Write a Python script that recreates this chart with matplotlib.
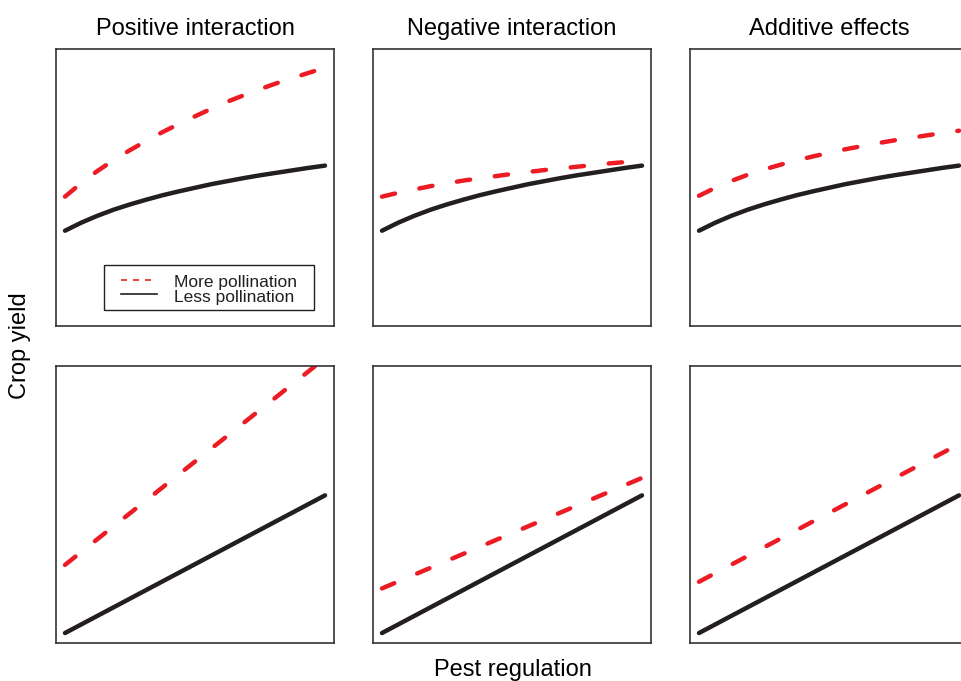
import matplotlib
matplotlib.use("Agg")
import matplotlib.pyplot as plt
from matplotlib.lines import Line2D
from matplotlib.patches import Rectangle
import numpy as np

plt.rcParams['font.family'] = ['Liberation Sans', 'DejaVu Sans']

RED = "#ed1c24"
BLACK = "#231f20"
FRAME = "#333333"

# pest regulation (relative), read at even steps along the x axis
x_curve = [0, 0.0625, 0.125, 0.1875, 0.25, 0.3125, 0.375, 0.4375, 0.5,
           0.5625, 0.625, 0.6875, 0.75, 0.8125, 0.875, 0.9375, 1]
x_line = [0, 1]

titles = ["Positive interaction", "Negative interaction", "Additive effects"]
legend_labels = ["More pollination", "Less pollination"]

# top row: saturating responses (crop yield, relative)
less_top = [0.344, 0.373, 0.398, 0.420, 0.439, 0.456, 0.472, 0.486, 0.499,
            0.512, 0.523, 0.534, 0.544, 0.553, 0.562, 0.571, 0.579]
more_top_pos = [0.467, 0.516, 0.560, 0.599, 0.635, 0.668, 0.700, 0.729, 0.757,
                0.784, 0.810, 0.833, 0.855, 0.876, 0.895, 0.914, 0.932]
more_top_neg = [0.467, 0.481, 0.493, 0.505, 0.515, 0.525, 0.533, 0.541, 0.549,
                0.556, 0.563, 0.569, 0.575, 0.581, 0.587, 0.592, 0.597]
more_top_add = [0.470, 0.499, 0.524, 0.546, 0.565, 0.582, 0.598, 0.612, 0.625,
                0.638, 0.649, 0.660, 0.670, 0.679, 0.688, 0.697, 0.705]

# bottom row: linear responses
less_bot = [0.036, 0.533]
more_bot_pos = [0.282, 1.028]
more_bot_neg = [0.197, 0.596]
more_bot_add = [0.221, 0.718]

top_more = [more_top_pos, more_top_neg, more_top_add]
bot_more = [more_bot_pos, more_bot_neg, more_bot_add]

fig = plt.figure(figsize=(9.62, 6.81), dpi=100)

W, H = 962, 681
lefts = [56, 373, 690]
tops = [49, 366]
aw, ah = 278, 277

def make_ax(left, top):
    ax = fig.add_axes([left / W, 1 - (top + ah) / H, aw / W, ah / H])
    ax.set_xlim(-0.0346, 1.0346)
    ax.set_ylim(0, 1)
    ax.set_xticks([])
    ax.set_yticks([])
    for s in ax.spines.values():
        s.set_color(FRAME)
        s.set_linewidth(1.2)
    return ax

dash_kw = dict(color=RED, lw=3.2, dashes=(3, 5.6), dash_capstyle="round")
solid_kw = dict(color=BLACK, lw=3.2, solid_capstyle="round",
                solid_joinstyle="round")

axes_top = []
for i in range(3):
    ax = make_ax(lefts[i], tops[0])
    ax.plot(x_curve, top_more[i], **dash_kw)
    ax.plot(x_curve, less_top, **solid_kw)
    ax.set_title(titles[i], fontsize=17, pad=10)
    axes_top.append(ax)

for i in range(3):
    ax = make_ax(lefts[i], tops[1])
    ax.plot(x_line, bot_more[i], **dash_kw)
    ax.plot(x_line, less_bot, **solid_kw)

# hand-built legend box (tight R-style key) in the first panel
lax = axes_top[0]
tr = lax.transAxes
lax.add_patch(Rectangle((0.173, 0.058), 0.755, 0.162, transform=tr,
                        fill=False, edgecolor=BLACK, lw=1.0))
lax.add_line(Line2D([0.234, 0.345], [0.166, 0.166], transform=tr,
                    color=RED, lw=1.2, dashes=(3.6, 3.6)))
lax.add_line(Line2D([0.234, 0.363], [0.1155, 0.1155], transform=tr,
                    color=BLACK, lw=1.2))
lax.text(0.424, 0.141, legend_labels[0], transform=tr, fontsize=12.5,
         ha="left", va="baseline", color=BLACK)
lax.text(0.424, 0.087, legend_labels[1], transform=tr, fontsize=12.5,
         ha="left", va="baseline", color=BLACK)

fig.text(20 / W, 1 - 346 / H, "Crop yield", rotation=90, fontsize=17,
         ha="center", va="center")
fig.text(512.5 / W, 1 - 670 / H, "Pest regulation", fontsize=17,
         ha="center", va="center")

fig.savefig("out.png", dpi=100)
